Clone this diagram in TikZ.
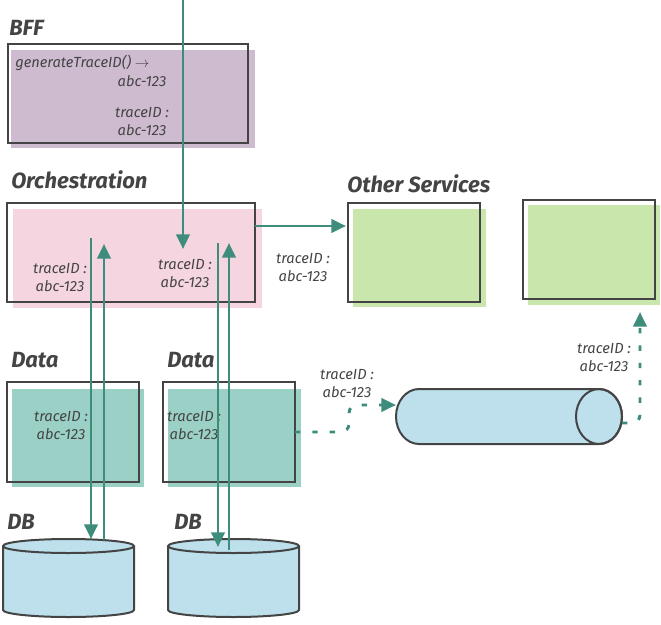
\documentclass[tikz,border=0pt]{standalone}
\usepackage{fontspec}
\setmainfont{Fira Sans}
\usetikzlibrary{arrows.meta}
\usetikzlibrary{positioning}
\definecolor{custom-purple}{RGB}{207,187,208}
\definecolor{custom-pink}{RGB}{245,213,223}
\definecolor{custom-green}{RGB}{201,230,172}
\definecolor{custom-teal}{RGB}{154,208,197}
\definecolor{custom-blue}{RGB}{189,224,236}
\definecolor{custom-arrow}{RGB}{62,140,124}
\definecolor{custom-line}{RGB}{68,68,68}
\newcommand{\pxu}{0.75pt}
\tikzset{
  outbox/.style={draw=custom-line, line width=1.5pt, inner sep=0pt, outer sep=0pt, anchor=north west},
  heading/.style={font=\itshape\bfseries\fontsize{16.5}{18}\selectfont, text=custom-line, anchor=west, inner sep=0pt},
  tag/.style={font=\itshape\fontsize{11}{13.5}\selectfont, text=custom-line, align=center, inner sep=0pt},
  flow/.style={draw=custom-arrow, line width=2.2pt, -{Triangle[length=11pt,width=10pt]}},
  dotty/.style={dash pattern=on 4pt off 9pt},
  store/.style={draw=custom-line, line width=1.5pt, fill=custom-blue}
}

\begin{document}
\begin{tikzpicture}[x=0.75pt, y=0.75pt]
\useasboundingbox (0,0) rectangle (661,-625);

% fills, a bit off the outlines
\fill[custom-purple] (11,-50) rectangle (255,-148);
\fill[custom-pink] (13,-209) rectangle (262,-308);
\fill[custom-green] (353,-209) rectangle (486,-307);
\fill[custom-green] (528,-205) rectangle (660,-305);
\fill[custom-teal] (12,-389) rectangle (144,-487);
\fill[custom-teal] (168,-389) rectangle (301,-487);

% outlines
\node[outbox, minimum width=240*\pxu, minimum height=99*\pxu] (bff) at (8,-44) {};
\node[outbox, minimum width=248*\pxu, minimum height=99*\pxu] (orch) at (7,-203) {};
\node[outbox, minimum width=132*\pxu, minimum height=99*\pxu] (svc1) at (348,-203) {};
\node[outbox, minimum width=132*\pxu, minimum height=99*\pxu] (svc2) at (523,-200) {};
\node[outbox, minimum width=132*\pxu, minimum height=100*\pxu] (data1) at (7,-382) {};
\node[outbox, minimum width=132*\pxu, minimum height=100*\pxu] (data2) at (163,-382) {};

% stores
\filldraw[store] (3,-546) -- (3,-610) arc[start angle=180, end angle=360, x radius=65.5, y radius=7]
  -- (134,-546) arc[start angle=0, end angle=180, x radius=65.5, y radius=7] -- cycle;
\draw[store, fill=none] (3,-546) arc[start angle=180, end angle=360, x radius=65.5, y radius=7];
\filldraw[store] (168,-546) -- (168,-610) arc[start angle=180, end angle=360, x radius=65.5, y radius=7]
  -- (299,-546) arc[start angle=0, end angle=180, x radius=65.5, y radius=7] -- cycle;
\draw[store, fill=none] (168,-546) arc[start angle=180, end angle=360, x radius=65.5, y radius=7];
\filldraw[store] (419,-389) -- (599,-389) arc[start angle=90, end angle=-90, x radius=23, y radius=27.5]
  -- (419,-444) arc[start angle=270, end angle=90, x radius=23, y radius=27.5] -- cycle;
\draw[store, fill=none] (599,-416.5) ellipse[x radius=23, y radius=27.5];
\coordinate (db1) at (68.5,-539);
\coordinate (db2) at (233.5,-539);
\coordinate (queuein) at (396,-405);
\coordinate (queueout) at (622,-423);

% headings
\node[heading] (bffname) at (9,-28) {BFF};
\node[heading] (orchname) at (11,-180) {Orchestration};
\node[heading] (svcname) at (347,-184) {Other Services};
\node[heading] (dataname1) at (11,-360) {Data};
\node[heading] (dataname2) at (167,-360) {Data};
\node[heading] (dbname1) at (7,-522) {DB};
\node[heading] (dbname2) at (174,-522) {DB};

% trace id tags
\node[tag, anchor=west] (gen) at (15,-63) {generateTraceID() $\rightarrow$};
\node[tag] (genval) at (142,-81) {abc-123};
\node[tag] (bfftag) at (142,-122) {traceID :\\abc-123};
\node[tag] (orchtag1) at (60,-278) {traceID :\\abc-123};
\node[tag] (orchtag2) at (185,-274) {traceID :\\abc-123};
\node[tag] (svctag) at (303,-268) {traceID :\\abc-123};
\node[tag] (datatag1) at (61,-426) {traceID :\\abc-123};
\node[tag] (datatag2) at (194,-426) {traceID :\\abc-123};
\node[tag] (queuetag) at (347,-384) {traceID :\\abc-123};
\node[tag] (outtag) at (604,-358) {traceID :\\abc-123};

% connectors
\coordinate (entry) at (183,0);
\coordinate (orchin) at (183,-249);
\coordinate (req1) at (91,-238);
\coordinate (resp1) at (104,-244);
\coordinate (req2) at (218,-243);
\coordinate (resp2) at (229,-243);
\coordinate (svcin) at (346,-226);
\coordinate (bend1) at (349,-432);
\coordinate (bend2) at (640,-423);
\coordinate (svc2in) at (640,-312);

\draw[flow] (entry) -- (orchin);
\draw[flow] (req1) -- (req1 |- db1);
\draw[flow] ([yshift=-1pt]resp1 |- db1) -- (resp1);
\draw[flow] (req2) -- ([yshift=-6pt]req2 |- db2);
\draw[flow] ([yshift=-8pt]resp2 |- db2) -- (resp2);
\draw[flow] (orch.east |- svcin) -- (svcin);
\draw[flow, dotty, rounded corners=6pt] (data2.east) -- (bend1) -- (bend1 |- queuein) -- (queuein);
\draw[flow, dotty, rounded corners=6pt] (queueout) -- (bend2) -- (svc2in);

\end{tikzpicture}
\end{document}
